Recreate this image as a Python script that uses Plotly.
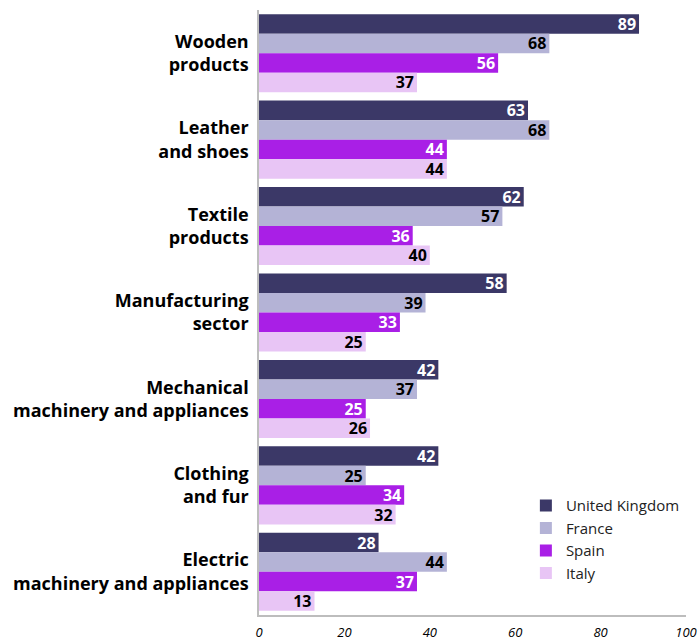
import plotly.graph_objects as go

categories = ["Wooden<br>products", "Leather<br>and shoes", "Textile<br>products",
              "Manufacturing<br>sector", "Mechanical<br>machinery and appliances",
              "Clothing<br>and fur", "Electric<br>machinery and appliances"]
uk = [89, 63, 62, 58, 42, 42, 28]
france = [68, 68, 57, 39, 37, 25, 44]
spain = [56, 44, 36, 33, 25, 34, 37]
italy = [37, 44, 40, 25, 26, 32, 13]
series_names = ["United Kingdom", "France", "Spain", "Italy"]
colors = ["#3b3867", "#b4b3d6", "#a91fe6", "#e8c5f5"]
text_colors = ["white", "black", "white", "black"]
ticks = [0, 20, 40, 60, 80, 100]

FONT = "Open Sans"
fig = go.Figure()
for name, vals, c, tc in zip(series_names, [uk, france, spain, italy], colors, text_colors):
    fig.add_trace(go.Bar(
        y=categories, x=vals, name=name, orientation="h",
        marker=dict(color=c, line=dict(width=0)),
        text=[str(v) for v in vals], textposition="inside", textangle=0,
        insidetextanchor="end", constraintext="none",
        textfont=dict(family=FONT, size=16, color=tc, weight="bold"),
        hoverinfo="x+name",
    ))

fig.update_layout(
    width=699, height=642,
    margin=dict(l=259, r=13, t=10, b=27, autoexpand=False),
    barmode="group", bargap=0.097, bargroupgap=0,
    plot_bgcolor="white", paper_bgcolor="white",
    font=dict(family=FONT, color="black"),
    uniformtext=dict(mode=False),
    legend=dict(x=0.625, y=0.208, xanchor="left", yanchor="top",
                font=dict(family=FONT, size=15, color="#222"),
                traceorder="normal", itemwidth=30, tracegroupgap=0,
                bgcolor="rgba(0,0,0,0)"),
    showlegend=True,
)
fig.update_xaxes(range=[0, 100], tickvals=ticks, ticktext=[str(t) for t in ticks],
                 showgrid=False, zeroline=False, showline=True, linecolor="#bdbdbd",
                 linewidth=1.5, ticks="", ticklabelstandoff=5, automargin=False,
                 tickfont=dict(family=FONT, size=13, style="italic", color="black"))
fig.update_yaxes(autorange="reversed", showgrid=False, showline=True, linecolor="#bdbdbd",
                 linewidth=1.5, ticks="", ticklabelstandoff=5, automargin=False,
                 tickfont=dict(family=FONT, size=18, weight="bold", color="black"))

fig.write_html("out.html", config={"displayModeBar": False},
               post_script="document.body.style.margin='0px';")
